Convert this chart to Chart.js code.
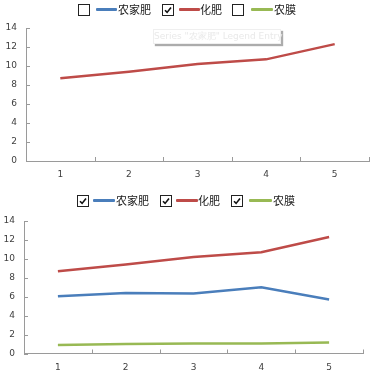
<!DOCTYPE html>
<html>
<head>
<meta charset="utf-8">
<script src="https://cdn.jsdelivr.net/npm/chart.js@4/dist/chart.umd.min.js"></script>
<style>
  html, body { margin: 0; padding: 0; background: #fff; }
  body { width: 373px; height: 378px; position: relative; overflow: hidden; }
  canvas { position: absolute; left: 0; }
  .legend { position: absolute; left: 0; width: 373px; height: 16px;
            font-family: "Noto Sans CJK SC", sans-serif; font-size: 11px; color: #1a1a1a; }
  .legend .box { position: absolute; width: 10px; height: 10px; border: 1px solid #222; background: #fff; }
  .legend .box svg { position: absolute; left: 1px; top: 1px; }
  .legend .ln { position: absolute; height: 3px; border-radius: 1px; }
  .legend .tx { position: absolute; line-height: 14px; white-space: nowrap; }
  .tip { position: absolute; left: 153px; top: 29px; width: 126px; height: 13px;
         border: 1px solid #efefef; background: #fff; box-shadow: 2px 2px 1px rgba(90,90,90,0.5);
         font-family: "DejaVu Sans", sans-serif; font-size: 9px; line-height: 13px; color: #e9e9e9;
         text-align: center; white-space: nowrap; }
</style>
</head>
<body>
<canvas id="c1" width="373" height="188" style="top:0"></canvas>
<canvas id="c2" width="373" height="190" style="top:188px"></canvas>
<div id="lg1" class="legend" style="top:3px"></div>
<div id="lg2" class="legend" style="top:194px"></div>
<div class="tip">Series "农家肥" Legend Entry</div>
<script>
// ---- data ----
const categories = ['1', '2', '3', '4', '5'];
const seriesNames = ['农家肥', '化肥', '农膜'];
const nongjiafei = [6.05, 6.4, 6.35, 7.0, 5.7];
const huafei = [8.7, 9.4, 10.2, 10.7, 12.3];
const nongmo = [0.9, 1.0, 1.05, 1.05, 1.15];
const yMin = 0, yMax = 14, yStep = 2;
const topChecked = [false, true, false];
const bottomChecked = [true, true, true];

const colors = ['#4a7ebb', '#be4b48', '#98b954'];
const seriesValues = [nongjiafei, huafei, nongmo];
const axisColor = '#9a9a9a';
const tickFont = { family: 'DejaVu Sans', size: 9 };

const insideTicks = {
  id: 'insideTicks',
  afterDraw(chart) {
    const ctx = chart.ctx, xs = chart.scales.x, ys = chart.scales.y;
    ctx.save();
    ctx.strokeStyle = axisColor;
    ctx.lineWidth = 1;
    ctx.beginPath();
    ys.ticks.forEach((t, i) => {
      const py = Math.round(ys.getPixelForTick(i)) + 0.5;
      ctx.moveTo(xs.left, py); ctx.lineTo(xs.left + 4, py);
    });
    for (let i = 0; i <= categories.length; i++) {
      const px = Math.round(xs.getPixelForValue(i - 0.5)) + 0.5;
      ctx.moveTo(px, ys.bottom); ctx.lineTo(px, ys.bottom - 4);
    }
    ctx.stroke();
    ctx.restore();
  }
};

function makeChart(id, checked, box) {
  const datasets = seriesNames.map((name, i) => ({
    label: name,
    data: seriesValues[i],
    borderColor: colors[i],
    backgroundColor: colors[i],
    borderWidth: 2.5,
    pointRadius: 0,
    tension: 0,
    fill: false,
    hidden: !checked[i]
  }));
  return new Chart(document.getElementById(id), {
    type: 'line',
    data: { labels: categories, datasets },
    plugins: [insideTicks],
    options: {
      responsive: false,
      animation: false,
      layout: { padding: { top: box.top, right: box.right, left: 0, bottom: 0 } },
      plugins: { legend: { display: false }, tooltip: { enabled: false } },
      scales: {
        x: {
          offset: true,
          grid: { display: false, drawTicks: false, offset: true },
          border: { display: true, color: axisColor, width: 1 },
          ticks: { color: '#404040', font: tickFont, padding: box.xpad, maxRotation: 0 },
          afterFit(s) { s.height = box.xh; }
        },
        y: {
          min: yMin, max: yMax,
          grid: { display: false, drawTicks: false },
          border: { display: true, color: axisColor, width: 1 },
          ticks: { stepSize: yStep, color: '#404040', font: tickFont, padding: box.ypad },
          afterFit(s) { s.width = box.yw; }
        }
      }
    }
  });
}

makeChart('c1', topChecked, { top: 28, right: 4, xh: 27, yw: 26, xpad: 8, ypad: 9 });
makeChart('c2', bottomChecked, { top: 33, right: 10, xh: 24.5, yw: 24, xpad: 9, ypad: 9 });

function checkSvg() {
  return '<svg width="8" height="8" viewBox="0 0 8 8"><path d="M1 4.2 L3.1 6.4 L7 1.4" fill="none" stroke="#111" stroke-width="1.6"/></svg>';
}
function buildLegend(id, checked, pos) {
  const el = document.getElementById(id);
  let html = '';
  seriesNames.forEach((name, i) => {
    const p = pos[i];
    html += '<div class="box" style="left:' + p.box + 'px;top:1px">' + (checked[i] ? checkSvg() : '') + '</div>';
    html += '<div class="ln" style="left:' + p.ln + 'px;width:' + p.lw + 'px;top:5px;background:' + colors[i] + '"></div>';
    html += '<div class="tx" style="left:' + p.tx + 'px;top:-1px">' + name + '</div>';
  });
  el.innerHTML = html;
}
buildLegend('lg1', topChecked, [
  { box: 78, ln: 96, lw: 21, tx: 118 },
  { box: 162, ln: 179, lw: 21, tx: 200 },
  { box: 232, ln: 251, lw: 22, tx: 274 }
]);
buildLegend('lg2', bottomChecked, [
  { box: 77, ln: 93, lw: 22, tx: 116 },
  { box: 160, ln: 176, lw: 22, tx: 198 },
  { box: 231, ln: 249, lw: 23, tx: 273 }
]);
</script>
</body>
</html>
